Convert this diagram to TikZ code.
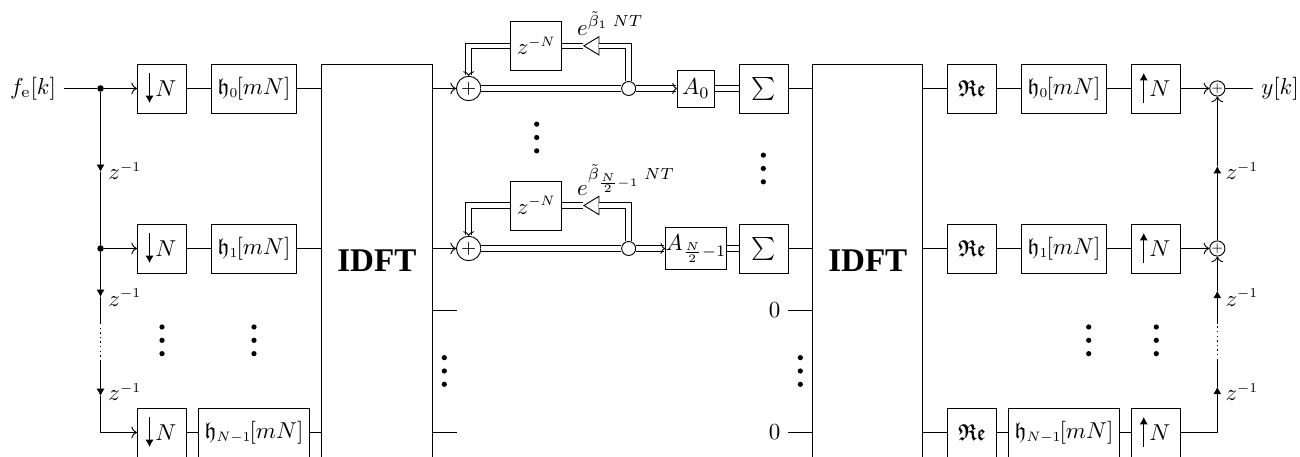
\documentclass[tikz,border=0pt]{standalone}
\usepackage[no-math]{fontspec}
\usepackage{amsmath}
\usepackage{amssymb}
\usetikzlibrary{shapes.geometric, arrows.meta}
\newfontfamily\idftfont{Liberation Serif}
\newcommand{\shr}[1]{\scalebox{0.85}{$\scriptstyle #1$}}
\newcommand{\hfilt}[1]{$\mathfrak{h}_{\shr{#1}}\mkern-1.5mu[mN]$}
\newcommand{\refrak}{\scalebox{0.82}[1]{$\boldsymbol{\mathfrak{Re}}$}}
\tikzset{
    block/.style={draw=black, minimum size=0.75cm, inner xsep=2.7pt},
    idft/.style={draw=black, minimum width=1.688cm, minimum height=6.013cm, font=\idftfont\fontsize{14.4}{16}\selectfont\bfseries},
    gainbox/.style={draw=black, inner sep=0pt, minimum size=0.566cm},
    junction/.style={circle, fill=black, inner sep=0pt, minimum size=0.1cm},
    adder/.style={circle, draw=black, inner sep=0pt, minimum size=0.373cm, font=\footnotesize},
    smalladder/.style={circle, draw=black, inner sep=0pt, minimum size=0.184cm, font=\fontsize{5}{5}\selectfont},
    split/.style={circle, draw=black, fill=white, inner sep=0pt, minimum size=0.214cm},
    gain/.style={isosceles triangle, isosceles triangle stretches, shape border rotate=180, draw=black, inner sep=0pt, minimum height=0.23cm, minimum width=0.28cm, anchor=apex},
    dbl/.style={double, double distance=2pt},
    dblarrow/.style={double, double distance=2pt, -{To[line width=0.4pt, length=2pt, width=4.8pt]}},
    tri/.style={-{Latex[length=3.2pt, width=3.5pt]}},
    skipped/.style={dash pattern=on 0.6pt off 1.4pt},
    delay label/.style={anchor=base west, inner sep=0pt},
    threedots/.pic={
        \fill (0, 0.204) circle (0.04);
        \fill (0, 0) circle (0.04);
        \fill (0, -0.204) circle (0.04);
    }
}
\begin{document}
\begin{tikzpicture}
    \useasboundingbox (0, 0) rectangle (19.89, -6.977);

    % input side
    \node (in) at (0.505, -1.354) {$f_{\mathrm{e}}[k]$};
    \node[junction] (j0) at (1.538, -1.354) {};
    \node[junction] (j1) at (1.538, -3.802) {};
    \node[block] (dn0) at (2.479, -1.354) {\hspace{0.12cm}$N$};
    \node[block] (dn1) at (2.479, -3.802) {\hspace{0.12cm}$N$};
    \node[block] (dn2) at (2.479, -6.617) {\hspace{0.12cm}$N$};
    \node[block] (ha0) at (3.886, -1.354) {\hfilt{0}};
    \node[block] (ha1) at (3.886, -3.802) {\hfilt{1}};
    \node[block] (ha2) at (3.886, -6.617) {\hfilt{N-1}};
    \node[idft] (ft0) at (5.766, -3.986) {IDFT};

    % delay chain, input side
    \coordinate (d0) at (1.538, -2.63);
    \coordinate (d1) at (1.538, -4.544);
    \coordinate (e1) at (1.538, -4.942);
    \coordinate (e2) at (1.538, -5.508);
    \coordinate (d2) at (1.538, -6.059);
    \node[delay label] (zl0) at (1.652, -2.754) {$z^{\shr{-1}}$};
    \node[delay label] (zl1) at (1.652, -4.682) {$z^{\shr{-1}}$};
    \node[delay label] (zl2) at (1.652, -6.131) {$z^{\shr{-1}}$};

    \draw (in) to (j0);
    \draw[->] (j0) to (dn0);
    \draw[->] (j1) to (dn1);
    \draw[tri] (j0) to (d0);
    \draw (d0) to (j1);
    \draw[tri] (j1) to (d1);
    \draw (d1) to (e1);
    \draw[skipped] (e1) to (e2);
    \draw[tri] (e2) to (d2);
    \draw[->] (d2) |- (dn2);

    % arrows inside the decimators
    \draw[tri] ([shift={(-0.191, 0.237)}]dn0.center) to ([shift={(-0.191, -0.222)}]dn0.center);
    \draw[tri] ([shift={(-0.191, 0.237)}]dn1.center) to ([shift={(-0.191, -0.222)}]dn1.center);
    \draw[tri] ([shift={(-0.191, 0.237)}]dn2.center) to ([shift={(-0.191, -0.222)}]dn2.center);

    \draw (dn0) to (ha0);
    \draw (dn1) to (ha1);
    \draw (dn2) to (ha2);
    \draw (ha0) to (ha0 -| ft0.west);
    \draw (ha1) to (ha1 -| ft0.west);
    \draw (ha2) to (ha2 -| ft0.west);

    % first recursive branch
    \node[adder] (a0) at (7.171, -1.354) {$+$};
    \node[split] (s0) at (9.619, -1.354) {};
    \node[block] (z0) at (8.204, -0.701) {$z^{\shr{-N}}$};
    \node[gain] (g0) at (8.916, -0.701) {};
    \node[anchor=base west, inner sep=0pt] (e0) at (8.824, -0.536) {$e^{\tilde{\beta}_1\;NT}$};
    \node[gainbox] (c0) at (10.646, -1.354) {$A_0$};
    \node[block] (x0) at (11.682, -1.354) {$\sum$};

    \draw[->] (a0 -| ft0.east) to (a0);
    \draw[dbl] (a0) to (s0);
    \draw[dblarrow] (s0) to (c0);
    \draw[dbl] (s0) |- (g0);
    \draw[dbl] (g0) to (z0);
    \draw[dblarrow] (z0) -| (a0);
    \draw[dbl] (c0) to (x0);

    % second recursive branch
    \node[adder] (a1) at (7.171, -3.802) {$+$};
    \node[split] (s1) at (9.619, -3.802) {};
    \node[block] (z1) at (8.204, -3.144) {$z^{\shr{-N}}$};
    \node[gain] (g1) at (8.916, -3.144) {};
    \node[anchor=base west, inner sep=0pt] (e1l) at (8.824, -2.984) {$e^{\tilde{\beta}_{\frac{N}{2}-1}\;NT}$};
    \node[gainbox, minimum height=0.652cm] (c1) at (10.649, -3.802) {$A_{\frac{N}{2}-1}$};
    \node[block] (x1) at (11.682, -3.802) {$\sum$};

    \draw[->] (a1 -| ft0.east) to (a1);
    \draw[dbl] (a1) to (s1);
    \draw[dblarrow] (s1) to (c1);
    \draw[dbl] (s1) |- (g1);
    \draw[dbl] (g1) to (z1);
    \draw[dblarrow] (z1) -| (a1);
    \draw[dbl] (c1) to (x1);

    % unused carriers
    \coordinate (o0) at (6.988, -4.743);
    \coordinate (o1) at (6.988, -6.617);
    \node (n0) at (11.851, -4.743) {$0$};
    \node (n1) at (11.851, -6.617) {$0$};
    \draw (o0 -| ft0.east) to (o0);
    \draw (o1 -| ft0.east) to (o1);

    % output side
    \node[idft] (ft1) at (13.277, -3.986) {IDFT};
    \draw (x0) to (x0 -| ft1.west);
    \draw (x1) to (x1 -| ft1.west);
    \draw (n0) to (n0 -| ft1.west);
    \draw (n1) to (n1 -| ft1.west);

    \node[block] (re0) at (14.872, -1.354) {\refrak};
    \node[block] (re1) at (14.872, -3.802) {\refrak};
    \node[block] (re2) at (14.872, -6.617) {\refrak};
    \node[block] (hb0) at (16.279, -1.354) {\hfilt{0}};
    \node[block] (hb1) at (16.279, -3.802) {\hfilt{1}};
    \node[block] (hb2) at (16.279, -6.617) {\hfilt{N-1}};
    \node[block] (up0) at (17.687, -1.354) {\hspace{0.12cm}$N$};
    \node[block] (up1) at (17.687, -3.802) {\hspace{0.12cm}$N$};
    \node[block] (up2) at (17.687, -6.617) {\hspace{0.12cm}$N$};
    \node[smalladder] (r0) at (18.625, -1.354) {$+$};
    \node[smalladder] (r1) at (18.625, -3.802) {$+$};
    \node (out) at (19.584, -1.354) {$y[k]$};

    \draw (re0 -| ft1.east) to (re0);
    \draw (re1 -| ft1.east) to (re1);
    \draw (re2 -| ft1.east) to (re2);
    \draw (re0) to (hb0);
    \draw (re1) to (hb1);
    \draw (re2) to (hb2);
    \draw (hb0) to (up0);
    \draw (hb1) to (up1);
    \draw (hb2) to (up2);
    \draw[->] (up0) to (r0);
    \draw[->] (up1) to (r1);
    \draw (r0) to (out);

    % arrows inside the expanders
    \draw[tri] ([shift={(-0.188, -0.222)}]up0.center) to ([shift={(-0.188, 0.237)}]up0.center);
    \draw[tri] ([shift={(-0.188, -0.222)}]up1.center) to ([shift={(-0.188, 0.237)}]up1.center);
    \draw[tri] ([shift={(-0.188, -0.222)}]up2.center) to ([shift={(-0.188, 0.237)}]up2.center);

    % delay chain, output side
    \coordinate (u0) at (18.625, -2.54);
    \coordinate (u1) at (18.625, -4.448);
    \coordinate (f1) at (18.625, -4.942);
    \coordinate (f2) at (18.625, -5.508);
    \coordinate (u2) at (18.625, -5.917);
    \node[delay label] (yl0) at (18.743, -2.754) {$z^{\shr{-1}}$};
    \node[delay label] (yl1) at (18.743, -4.682) {$z^{\shr{-1}}$};
    \node[delay label] (yl2) at (18.743, -6.131) {$z^{\shr{-1}}$};

    \draw[tri] (up2) -| (u2);
    \draw (u2) to (f2);
    \draw[skipped] (f2) to (f1);
    \draw[tri] (f1) to (u1);
    \draw[->] (u1) to (r1);
    \draw[tri] (r1) to (u0);
    \draw[->] (u0) to (r0);

    % dots
    \pic (v0) at (2.479, -5.207) {threedots};
    \pic (v1) at (3.886, -5.207) {threedots};
    \pic (v2) at (6.798, -5.676) {threedots};
    \pic (v3) at (8.211, -2.104) {threedots};
    \pic (v4) at (11.679, -2.578) {threedots};
    \pic (v5) at (12.245, -5.676) {threedots};
    \pic (v6) at (16.657, -5.207) {threedots};
    \pic (v7) at (17.691, -5.207) {threedots};
\end{tikzpicture}
\end{document}
